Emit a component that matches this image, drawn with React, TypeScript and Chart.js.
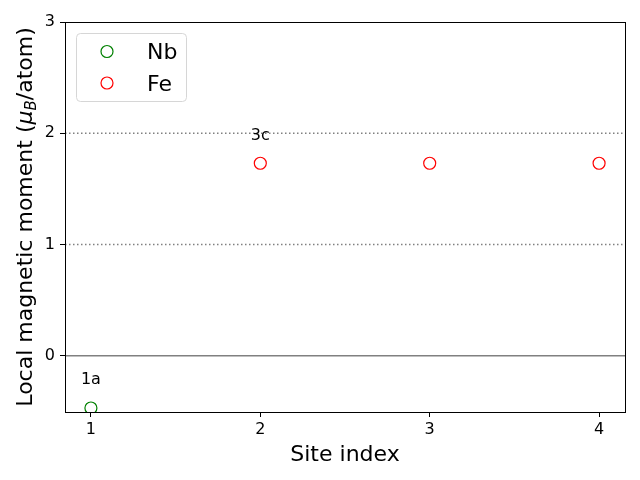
import React, { useEffect, useRef } from "react";
import { Chart, registerables } from "chart.js";

Chart.register(...registerables);

// ---- data ----
const nbSites = [1];
const nbMoments = [-0.47];
const feSites = [2, 3, 4];
const feMoments = [1.73, 1.73, 1.73];
const xTickValues = [1, 2, 3, 4];
const yTickValues = [0, 1, 2, 3];
const refLineValues = [0, 1, 2];
const refLineDotted = [false, true, true];
const annoSites = [1, 2];
const annoValues = [-0.22, 1.98];
const annoLabels = ["1a", "3c"];
const seriesLabels = ["Nb", "Fe"];
const seriesColors = ["#008000", "#ff0000"];

const FONT = "'DejaVu Sans', sans-serif";

const customPlugin = {
  id: "mplLike",
  beforeDatasetsDraw(chart: any) {
    const { ctx, chartArea } = chart;
    const ys = chart.scales.y;
    ctx.save();
    refLineValues.forEach((v, i) => {
      const py = ys.getPixelForValue(v);
      ctx.beginPath();
      ctx.strokeStyle = "#808080";
      ctx.lineWidth = 1.5;
      ctx.setLineDash(refLineDotted[i] ? [1.5, 2.5] : []);
      ctx.moveTo(chartArea.left, py);
      ctx.lineTo(chartArea.right, py);
      ctx.stroke();
    });
    ctx.restore();
  },
  afterDatasetsDraw(chart: any) {
    const { ctx, chartArea } = chart;
    const xs = chart.scales.x;
    const ys = chart.scales.y;
    ctx.save();
    // annotations
    ctx.fillStyle = "#000";
    ctx.font = `16px ${FONT}`;
    ctx.textAlign = "center";
    ctx.textBaseline = "middle";
    annoLabels.forEach((t, i) => {
      ctx.fillText(t, xs.getPixelForValue(annoSites[i]), ys.getPixelForValue(annoValues[i]));
    });
    // frame
    ctx.setLineDash([]);
    ctx.strokeStyle = "#000";
    ctx.lineWidth = 1;
    ctx.strokeRect(
      Math.round(chartArea.left) + 0.5,
      Math.round(chartArea.top) + 0.5,
      Math.round(chartArea.right - chartArea.left),
      Math.round(chartArea.bottom - chartArea.top)
    );
    // legend
    const bx = chartArea.left + 11.5;
    const by = chartArea.top + 11.5;
    const bw = 110;
    const bh = 68;
    const r = 4;
    ctx.beginPath();
    ctx.moveTo(bx + r, by);
    ctx.lineTo(bx + bw - r, by);
    ctx.quadraticCurveTo(bx + bw, by, bx + bw, by + r);
    ctx.lineTo(bx + bw, by + bh - r);
    ctx.quadraticCurveTo(bx + bw, by + bh, bx + bw - r, by + bh);
    ctx.lineTo(bx + r, by + bh);
    ctx.quadraticCurveTo(bx, by + bh, bx, by + bh - r);
    ctx.lineTo(bx, by + r);
    ctx.quadraticCurveTo(bx, by, bx + r, by);
    ctx.closePath();
    ctx.fillStyle = "rgba(255,255,255,0.8)";
    ctx.fill();
    ctx.strokeStyle = "#d6d6d6";
    ctx.stroke();
    chart.data.datasets.forEach((ds: any, i: number) => {
      const cy = chartArea.top + 29.5 + i * 31.5;
      ctx.beginPath();
      ctx.arc(chartArea.left + 42, cy, 6, 0, Math.PI * 2);
      ctx.strokeStyle = ds.borderColor;
      ctx.lineWidth = 1.2;
      ctx.stroke();
      ctx.fillStyle = "#000";
      ctx.font = `22px ${FONT}`;
      ctx.textAlign = "left";
      ctx.textBaseline = "alphabetic";
      ctx.fillText(ds.label, chartArea.left + 82, cy + 7.5);
    });
    // y-axis title with subscript
    const cy = (chartArea.top + chartArea.bottom) / 2;
    const parts = [
      { t: "Local magnetic moment (", f: `22px ${FONT}`, dy: 0 },
      { t: "μ", f: `italic 22px ${FONT}`, dy: 0 },
      { t: "B", f: `italic 15px ${FONT}`, dy: 4 },
      { t: "/atom)", f: `22px ${FONT}`, dy: 0 },
    ];
    let total = 0;
    const widths = parts.map((p) => {
      ctx.font = p.f;
      const w = ctx.measureText(p.t).width;
      total += w;
      return w;
    });
    ctx.translate(32, cy);
    ctx.rotate(-Math.PI / 2);
    ctx.fillStyle = "#000";
    ctx.textAlign = "left";
    ctx.textBaseline = "alphabetic";
    let x = -total / 2;
    parts.forEach((p, i) => {
      ctx.font = p.f;
      ctx.fillText(p.t, x, p.dy);
      x += widths[i];
    });
    ctx.restore();
  },
};

export default function App() {
  const ref = useRef<HTMLCanvasElement>(null);
  useEffect(() => {
    if (!ref.current) return;
    const chart = new Chart(ref.current, {
      type: "scatter",
      data: {
        datasets: [
          {
            label: seriesLabels[0],
            data: nbSites.map((s, i) => ({ x: s, y: nbMoments[i] })),
            borderColor: seriesColors[0],
            backgroundColor: "rgba(0,0,0,0)",
            pointRadius: 6,
            pointBorderWidth: 1.2,
            clip: 0.5,
          } as any,
          {
            label: seriesLabels[1],
            data: feSites.map((s, i) => ({ x: s, y: feMoments[i] })),
            borderColor: seriesColors[1],
            backgroundColor: "rgba(0,0,0,0)",
            pointRadius: 6,
            pointBorderWidth: 1.2,
            clip: 0.5,
          } as any,
        ],
      },
      options: {
        responsive: false,
        animation: false,
        layout: { padding: { left: 0, right: 15, top: 22, bottom: 0 } },
        plugins: {
          legend: { display: false },
          tooltip: { enabled: false },
        },
        scales: {
          x: {
            type: "linear",
            min: 0.847,
            max: 4.153,
            afterBuildTicks: (s: any) => {
              s.ticks = xTickValues.map((v) => ({ value: v }));
            },
            afterFit: (s: any) => {
              s.height = 68;
            },
            grid: {
              display: true,
              drawOnChartArea: false,
              drawTicks: true,
              tickLength: 5,
              tickColor: "#000",
            },
            border: { display: false },
            ticks: {
              color: "#000",
              padding: 3,
              font: { family: FONT, size: 16 },
              callback: (v: any) => String(v),
            },
            title: {
              display: true,
              text: "Site index",
              color: "#000",
              font: { family: FONT, size: 22 },
              padding: { top: 0, bottom: 12 },
            },
          },
          y: {
            type: "linear",
            min: -0.506,
            max: 3,
            afterBuildTicks: (s: any) => {
              s.ticks = yTickValues.map((v) => ({ value: v }));
            },
            afterFit: (s: any) => {
              s.width = 65;
            },
            grid: {
              display: true,
              drawOnChartArea: false,
              drawTicks: true,
              tickLength: 5,
              tickColor: "#000",
            },
            border: { display: false },
            ticks: {
              color: "#000",
              padding: 5,
              font: { family: FONT, size: 16 },
              callback: (v: any) => String(v),
            },
          },
        },
      },
      plugins: [customPlugin],
    });
    return () => chart.destroy();
  }, []);
  return (
    <div style={{ position: "fixed", left: 0, top: 0, width: 640, height: 480, background: "#fff" }}>
      <canvas ref={ref} width={640} height={480} style={{ width: 640, height: 480 }} />
    </div>
  );
}
